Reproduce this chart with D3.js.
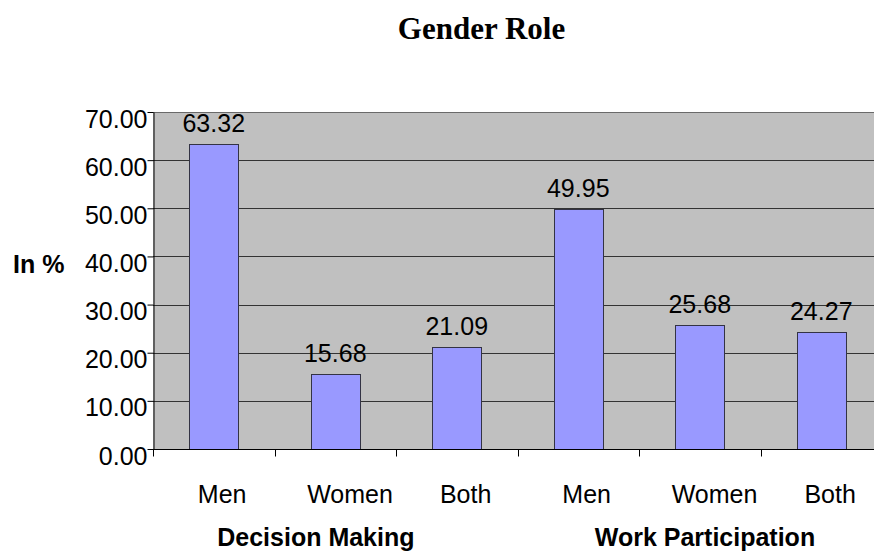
<!DOCTYPE html>
<html><head><meta charset="utf-8">
<script src="https://cdn.jsdelivr.net/npm/d3@7"></script>
<style>body{margin:0;background:#fff}svg{display:block}</style>
</head><body><svg width="874" height="553"></svg>
<script>
const categories = ["Men","Women","Both","Men","Women","Both"];
const groups = ["Decision Making","Work Participation"];
const values = [63.32,15.68,21.09,49.95,25.68,24.27];
const yTicks = [0,10,20,30,40,50,60,70];

const FONT = "Liberation Sans, Arial, sans-serif";
const svg = d3.select("svg");
const L=153, R=882, T=112, B=449;
const x = d3.scaleBand().domain(d3.range(values.length)).range([L,R]);
const y = d3.scaleLinear().domain([0,70]).range([B,T]);
const cx = i => x(i)+x.bandwidth()/2;

svg.append("rect").attr("x",L).attr("y",T).attr("width",R-L).attr("height",B-T).attr("fill","#c0c0c0");
svg.append("g").selectAll("line").data(yTicks.slice(1,-1)).join("line")
  .attr("x1",L).attr("x2",R).attr("y1",d=>Math.round(y(d))+0.5).attr("y2",d=>Math.round(y(d))+0.5)
  .attr("stroke","#333").attr("stroke-width",1);
svg.append("line").attr("x1",L).attr("x2",R).attr("y1",T+0.5).attr("y2",T+0.5).attr("stroke","#6a6a6a");

const bw = x.bandwidth()/2.5;
svg.append("g").selectAll("rect").data(values).join("rect")
  .attr("x",(d,i)=>Math.round(cx(i)-bw/2)+0.5).attr("y",d=>Math.round(y(d))+0.5)
  .attr("width",Math.round(bw)).attr("height",d=>B-Math.round(y(d)))
  .attr("fill","#9999ff").attr("stroke","#333344").attr("stroke-width",1);

svg.append("g").selectAll("text").data(values).join("text")
  .attr("x",(d,i)=>cx(i)).attr("y",d=>y(d)-12)
  .attr("text-anchor","middle").attr("font-family",FONT).attr("font-size",25)
  .text(d=>d.toFixed(2));

// y axis
const ya = svg.append("g").attr("transform",`translate(${L+0.5},0)`)
  .call(d3.axisLeft(y).tickValues(yTicks).tickFormat(d=>d.toFixed(2)).tickSize(6).tickSizeOuter(0).tickPadding(0));
ya.select(".domain").attr("stroke","#000");
ya.selectAll(".tick line").attr("stroke","#000");
ya.selectAll("text").attr("font-family",FONT).attr("font-size",25).attr("fill","#000")
  .attr("dy",null).attr("y",15);

// x axis
const xa = svg.append("g").attr("transform",`translate(0,${B+0.5})`);
xa.append("line").attr("x1",L).attr("x2",R).attr("stroke","#000");
xa.selectAll("line.t").data(d3.range(values.length+1)).join("line").attr("class","t")
  .attr("x1",i=>Math.round(L+i*x.bandwidth())+0.5).attr("x2",i=>Math.round(L+i*x.bandwidth())+0.5)
  .attr("y1",0).attr("y2",7).attr("stroke","#000");
svg.append("g").selectAll("text").data(categories).join("text")
  .attr("y",503).attr("text-anchor","start").attr("font-family",FONT).attr("font-size",25)
  .text(d=>d)
  .attr("x",function(d,i){ return cx(i) - 0.327*this.getComputedTextLength(); });
const groupStart = [x(1)+x.bandwidth()/2-118, x(4)+x.bandwidth()/2-105];
svg.append("g").selectAll("text").data(groups).join("text")
  .attr("x",(d,i)=>groupStart[i]).attr("y",546)
  .attr("text-anchor","start").attr("font-family",FONT).attr("font-size",25).attr("font-weight","bold")
  .text(d=>d);

svg.append("text").attr("x",13).attr("y",272.5).attr("text-anchor","start")
  .attr("font-family",FONT).attr("font-size",25).attr("font-weight","bold").text("In %");
svg.append("text").attr("x",481.5).attr("y",38.5).attr("text-anchor","middle")
  .attr("font-family","Liberation Serif, Times New Roman, serif").attr("font-size",31).attr("font-weight","bold").text("Gender Role");
</script></body></html>
